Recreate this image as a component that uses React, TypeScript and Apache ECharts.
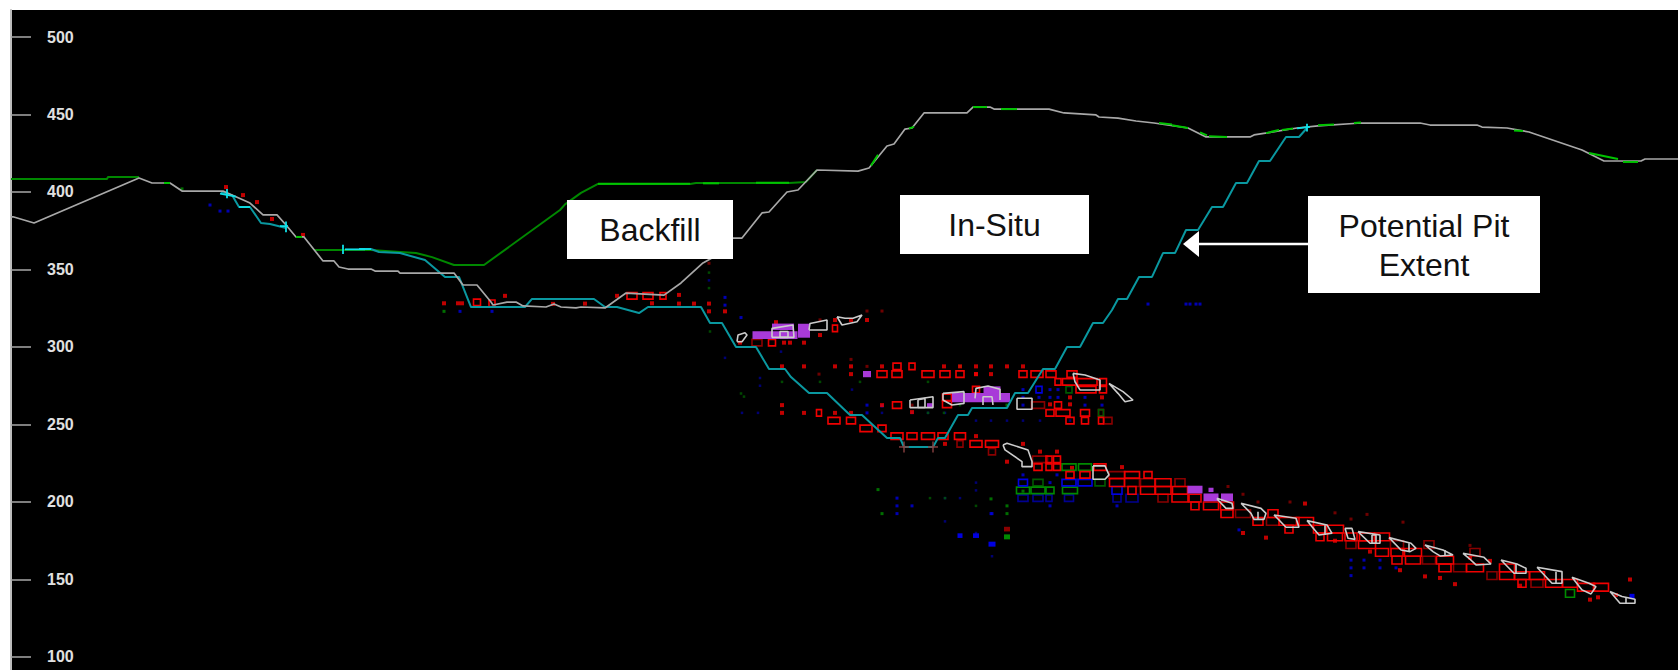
import React, { useEffect, useRef } from "react";
import * as echarts from "echarts";

type P = [number, number];
type B = [number, number, number];

const yTicks = [100, 150, 200, 250, 300, 350, 400, 450, 500];

const topography: P[] = [[11,384],[13,384],[34,380],[139,409],[152,405.8],[170,405.8],[182,400.6],[223,400.6],[250,392.9],[263,385.2],[277,385.2],[286,378.7],[296,371],[304,371],[323,355.5],[334,355.5],[339,351.6],[348,350.3],[371,350.3],[375,349],[398,349],[400,347.7],[454,347.7],[463,340],[477,340],[491,329],[493,327.1],[507,329],[516,329],[523,326.5],[546,325.8],[554,327.7],[561,325.8],[576,325.2],[581,325.8],[605,325.2],[626,334.8],[664,333.5],[681,341.3],[703,354.2],[712,357.4],[733,370.3],[742,370.3],[762,386.5],[769,387.1],[787,400],[798,401.3],[817,414.2],[858,413.5],[869,415.5],[887,429.7],[894,431],[905,440.6],[912,441.3],[924,451],[967,451],[973,454.8],[990,454.8],[994,453.5],[1049,453.5],[1064,451],[1096,449.7],[1099,448.4],[1118,447.7],[1136,445.8],[1154,444.5],[1188,441.3],[1206,435.5],[1250,435.5],[1254,436.8],[1297,441.3],[1318,442.6],[1361,444.5],[1420,444.5],[1430,443.2],[1477,443.2],[1482,441.9],[1507,441.3],[1529,438.7],[1582,427.1],[1604,420],[1622,420],[1641,420],[1645,421.3],[1678,421.3]];

const originalSurface: P[] = [[11,408.4],[107,408.4],[108,409.7],[139,409.7]];
const backfillSurface: P[] = [[314,362.6],[371,362.6],[400,361.3],[416,360.6],[432,358],[454,352.9],[484,352.9],[560,388.4],[565,392],[581,399.4],[598,405.2],[690,405.2],[696,405.8],[789,405.8],[806,406.5],[817,414.2]];
const greenHighlights: P[][] = [
  [[598,405.4],[690,405.4]],[[703,405.6],[719,405.6]],[[756,405.9],[789,405.9]],
  [[164,405.8],[170,405.8]],[[296,371],[302,371]],[[871,417],[878,424]],[[909,441],[914,442]],
  [[973,454.8],[987,454.8]],[[1001,453.5],[1017,453.5]],[[1159,444.5],[1172,443.5]],[[1172,443],[1188,441.3]],
  [[1200,438.5],[1207,436.5]],[[1209,436],[1227,435.5]],[[1266,438],[1279,440]],[[1282,440],[1293,441]],
  [[1318,443],[1334,443.5]],[[1354,444.5],[1361,444.8]],[[1514,439.6],[1523,439.4]],[[1589,425.2],[1618,421.3]],[[1623,419.4],[1638,419.4]],
];

const pitShellUpper: P[] = [[221,400],[232,398],[239,390.3],[250,390.3],[261,380],[270,379.4],[286,376.8]];
const pitShellMain: P[] = [[359,363.2],[371,363.2],[379,361.3],[400,360.6],[425,356.1],[445,345.2],[459,345.2],[471,325.8],[525,325.8],[532,331],[594,331],[605,325.8],[617,325.8],[639,321.9],[648,325.8],[701,325.8],[710,315.5],[722,315.5],[736,300],[756,300],[769,285.8],[785,285.8],[791,280.6],[809,270.3],[827,270.3],[850,256.1],[862,256.1],[887,241.3],[900,241.3],[904,235.5],[933,235.5],[938,241.3],[945,241.3],[958,256.1],[968,256.1],[972,260.6],[1007,260.6],[1015,270.3],[1028,270.3],[1043,285.8],[1055,285.8],[1067,300],[1080,300],[1093,315.5],[1103,315.5],[1112,323.9],[1118,331],[1127,331],[1139,345.2],[1152,345.2],[1163,360.6],[1175,360.6],[1186,375.5],[1198,375.5],[1212,390.3],[1223,390.3],[1236,405.8],[1247,405.8],[1259,420],[1270,420],[1286,435.5],[1299,435.5],[1307,441.3]];
const cyanBright: P[][] = [
  [[359,363.2],[371,363.2]],[[343,360],[343,366]],[[345,363],[365,363]],[[227,396],[227,402]],[[220,399],[236,397]],
  [[280,378],[288,378]],[[286,374],[286,381]],[[1297,441],[1310,442]],[[1307,439],[1307,444]],[[239,390.3],[250,390.3]],
];
const pinkCrosses: P[][] = [[[904,232],[904,239]],[[899,235.5],[909,235.5]],[[933,232],[933,239]],[[928,235.5],[938,235.5]]];

const oreOutlines: P[][] = [
  [[737,303.4],[738,307.7],[745,309.2],[747,307.7],[742,303.4]],
  [[772,306.2],[772,312],[793,314.2],[794,306.2]],
  [[780,306.2],[780,310],[788,310],[788,306.2]],
  [[809,311],[810,315.2],[827,317.4],[827,311]],
  [[837,319.5],[842,314.2],[857,316.3],[862,320.6],[853,318.5],[845,318.5]],
  [[910,265.8],[933,267.9],[933,260.9],[910,260.9]],
  [[918,266],[918,261],[925,261],[925,266.8]],
  [[943,270.1],[964,271.2],[964,263.6],[952,262.6],[943,265.8]],
  [[975,266.9],[976,273.3],[988,274.8],[1000,272.7],[1000,265.8],[1000,272.7],[988,274.8],[976,273.3]],
  [[983,262.6],[983,267.9],[992,267.9],[993,262.6],[992,267.9],[983,267.9]],
  [[1017,266.9],[1032,266.9],[1032,259.8],[1017,259.8]],
  [[1073,283],[1085,281.9],[1100,278.7],[1100,272.3],[1080,272.3],[1075,277.6]],
  [[1109,276.5],[1123,271.2],[1133,265.8],[1125,264.7],[1118,270.1]],
  [[1003,236.8],[1007,237.9],[1028,233.6],[1032,226.1],[1032,222.8],[1022,222.8],[1022,226.1],[1005,233.6]],
  [[1093,223.3],[1105,223.3],[1109,217.5],[1105,214.7],[1093,214.7]],
  [[1217,202.4],[1232,199.2],[1233,195.9],[1226,195.9],[1218,201.3]],
  [[1241,199.2],[1261,195.9],[1266,192.7],[1264,188.8],[1254,188.8],[1251,192.7]],
  [[1274,191.6],[1296,189.5],[1299,183.7],[1286,183.7],[1279,188.4]],
  [[1307,188],[1327,185.2],[1332,179.8],[1319,178.7],[1312,184.1]],
  [[1345,183],[1352,183],[1355,175.9],[1348,176.6]],
  [[1358,180.9],[1380,178.7],[1380,173.4],[1370,173.4]],
  [[1372,178.7],[1372,173.4],[1376,173.4],[1376,178.7]],
  [[1389,177],[1411,173.4],[1416,170.1],[1410,168],[1401,169]],
  [[1425,172.3],[1443,169],[1453,165.8],[1440,165.2],[1433,168]],
  [[1463,166.9],[1484,164.3],[1491,160],[1476,159.4],[1469,163.7]],
  [[1501,162.6],[1517,160],[1526,157.2],[1526,154],[1514,154]],
  [[1537,157.9],[1562,155.1],[1562,147.6],[1552,147.6]],
  [[1572,151.4],[1589,147.6],[1596,145.4],[1591,140.7],[1582,143.3]],
  [[1610,142.2],[1622,139],[1635,137.2],[1635,134.7],[1620,134.7]],
  [[1258,193.7],[1258,188.8]],[[1325,185],[1325,178.7]],[[1409,173.4],[1409,168]],[[1445,169],[1445,165.2]],[[1516,160],[1516,154]],[[1556,155],[1556,147.6]],[[1626,138],[1626,134.7]],
];

const purpleFills: [number, number, number, number][] = [
  [775,307.7,45,5],[804,310.5,12,9],[783,313,22,4.2],[867,282.5,8,4],
  [981,267.4,58,6],[992,272.2,17,4.8],[930,262.5,6,2.5],
  [1195,208,15,5],[1211,203,15,5],[1227,203,12,5],[1211,207.8,5,2.8],
];

const redBlocks: B[] = [
  [897,287.5,8],[912,287.5,6],[882,282.5,10],[897,282.5,10],[928,282.5,12],[945,282.5,10],[960,282.5,8],[1023,282.5,8],[1037,282.5,12],[1051,282.5,10],[1072,282.5,10],
  [1058,277.5,6],[1070,277.5,15],[1087,277.5,20],[1103,277.5,7],[976,272.5,7],[1086,272.5,20],[1103,272.5,7],
  [897,262.5,9],[947,267.5,9],[947,263,9],[1058,262.5,7],[1050,257.5,8],[1063,257.5,14],[1085,257.5,9],[1085,252.5,7],[1101,252.5,5],[1070,252.5,8],
  [819,257.5,5],[834,252.5,12],[851,252.5,9],[866,247.5,12],[882,247.5,8],
  [897,242.5,12],[912,242.5,10],[928,242.5,13],[943,242.5,10],[960,242.5,11],[976,237.5,12],[992,237.5,13],
  [1049,227.5,6],[1057,227.5,7],[1038,222.5,8],[1049,222.5,6],[1057,222.5,7],[1070,217.5,8],[1085,217.5,10],[1100,222.5,12],
  [1117,212.5,15],[1132,217.5,15],[1148,217.5,8],[1132,207.5,8],[1148,207.5,15],[1163,212.5,16],[1163,207.5,16],[1180,207.5,15],[1180,202.5,16],[1195,202.5,12],[1211,197.5,15],[1227,197.5,13],[1195,197.5,8],[1227,192.5,12],
  [1258,187.5,10],[1273,192.5,10],[1289,187.5,20],[1289,182.5,8],[1305,187.5,17],[1320,182.5,13],[1320,177.5,8],[1335,182.5,17],[1335,177.5,15],[1351,177.5,12],[1367,177.5,15],[1367,172.5,17],[1382,177.5,15],[1382,167.5,13],[1397,167.5,12],[1397,162.5,10],[1413,167.5,17],[1413,162.5,15],[1445,162.5,17],[1445,157.5,12],[1475,157.5,17],[1507,157.5,15],[1507,152.5,15],[1522,152.5,15],[1522,147.5,8],[1537,152.5,15],[1554,147.5,17],[1570,147.5,15],[1586,145,17],[1601,145,15],
  [477,328.8,7],[492,328.2,6],[632,333,10],[648,333,10],[663,333,6],[772,302.8,7],[835,312,5],
];
const dimRedBlocks: B[] = [
  [1038,262.5,13],[1101,257.5,5],[1108,252.5,8],[960,237.5,6],
  [992,232.5,7],[1040,227.5,15],[1117,217.5,16],[1132,212.5,15],[1148,212.5,15],[1180,212.5,10],[1163,202.5,10],
  [757,302.8,10],[1243,192.5,15],[1273,187.5,13],[1351,172.5,10],[1397,172.5,13],[1429,172.5,10],[1429,162.5,13],[1460,157.5,13],[1475,167.5,10],[1492,152.5,10],[1537,147.5,12],
];
const greenBlocks: B[] = [[1069,222.5,14],[1085,222.5,13],[1023,207.5,13],[1038,207.5,14],[1050,207.5,8],[1070,207.5,15],[1570,141,9]];
const dimGreenBlocks: B[] = [[1038,212.5,10],[1100,212.5,10],[1069,272.5,6],[1101,257.5,5]];
const blueBlocks: B[] = [[1023,212.5,9],[1069,212.5,14],[1085,212.5,14],[1117,207.5,10],[1039,272.5,6]];
const dimBlueBlocks: B[] = [[1023,202.5,10],[1038,202.5,10],[1049,202.5,6],[1069,202.5,9],[1117,202.5,8],[1132,202.5,12]];

const redDots: P[] = [
  [226,403.2],[243,398],[257,393.5],[272,382.6],[303,372.3],[444,328.2],[458,328.2],[462,328.2],[505,333],[553,327.8],[585,328],[617,333],[652,328.2],[679,328],[694,328],[709,328],[709,323],[725,323],[679,333.6],
  [740,302.8],[804,302.8],[820,307.7],[851,317.4],[867,317.4],[835,317.4],[784,302.8],[790,302.8],[776,316],
  [782,287.5],[804,287.5],[835,287.5],[851,287.5],[882,287.5],[944,287.5],[960,287.5],[976,287.5],[991,287.5],[1007,287.5],[1023,287.5],[851,282.5],[976,282.5],[991,282.5],[976,282.5],
  [782,262.5],[882,262.5],[1050,263],[1070,263],[1070,267.5],[1102,267.5],[782,257.5],[804,257.5],[851,257.5],[835,257.5],[912,258],
  [976,242.5],[945,237.5],[1023,237.5],[1040,232.5],[1057,232.5],[1007,226],[1072,222],[1122,222.5],
  [1598,138.5],[1616,140],[1630,150],[1590,137],[1470,164],[1490,162],[1305,199],[1243,180],[1266,177],[1335,175],[1370,168],[1425,152],[1440,151],[1455,147],[1400,156],[1520,146],
];
const dimRedDots: P[] = [[882,323.2],[867,323.2],[820,317.5],[804,312],[851,292],[867,287.5],[819,282.5],[912,262.5],[709,354],[1228,210],[1243,205],[1258,200],[1290,200],[1335,193],[1351,189],[1367,192],[1403,187],[1470,172]];
const blueDots: P[] = [
  [210,391.6],[220,387.7],[228,387.7],[460,323],[492,323],[725,332],[725,327],[741,319],
  [882,262],[867,262.5],[1023,272.5],[1050,272.5],[1058,272.5],[1023,267.5],[1039,267.5],[1050,267.5],[1058,267.5],[1085,267.5],[1085,262.5],[1102,262.5],[1023,262.5],[867,257.5],
  [1023,217.5],[1057,217.5],[1050,212.5],[1050,197.5],[1117,197.5],[991,192.5],
  [897,202.5],[897,197.5],[912,197.5],[897,192.5],[992,192.5],[1364,162.5],[1380,162.5],[1364,157.5],[1380,157.5],[1396,157.5],[1351,162.5],[1351,157.5],[1351,152.5],[1239,182],
  [1148,327.7],[1186,327.7],[1190,327.7],[1196,327.7],[1200,327.7],
];
const dimBlueDots: P[] = [[709,343],[725,293],[781,297],[760,280],[760,275],[742,257.5],[758,257.5],[852,272.5],[882,257.5],[912,257.5],[928,257.5],[945,257.5],[976,252.5],[991,252.5],[1007,252.5],[1023,252.5],[1040,252.5],[1070,252.5],[945,202.5],[976,212.5],[976,207.5],[960,202.5],[945,187.5],[992,165],[976,180]];
const greenDots: P[] = [[444,323],[1007,262.5],[960,287.5],[882,192.5],[1007,192.5],[1023,207],[991,202],[1007,197.5],[182,402],[878,208]];
const dimGreenDots: P[] = [[709,348],[709,338],[741,270],[782,277.5],[820,277.5],[860,277.5],[928,277.5],[744,268],[710,310],[960,262.5],[928,257.5],[944,257.5],[945,202.5],[930,202.5],[976,197.5]];
const darkRedFill: [number, number, number, number][] = [[1007,182.5,6,3]];
const blueFills: [number, number, number, number][] = [[960,178.3,5,3],[976,178.3,6,3],[992,172.8,7,3.2],[1632,139,5,3.5]];
const darkGreenFill: [number, number, number, number][] = [[1007,177.5,6,3.2]];

const COLORS = {
  red: "#f00000", dimRed: "#8a0000", green: "#008a00", dimGreen: "#005a00", blue: "#0000e0", dimBlue: "#000090",
  purple: "#a83ad8", teal: "#0a98a0", cyan: "#10e0e8", gray: "#a8a8a8", white: "#cccccc", surf: "#008800", bright: "#00c400", pink: "#8a4040",
};

function rectSeries(name: string, data: number[][], color: string, filled: boolean, z: number) {
  return {
    type: "custom", name, z, clip: true, silent: true,
    encode: { x: 0, y: 1 },
    data,
    renderItem: (_: any, api: any) => {
      const c = api.coord([api.value(0), api.value(1)]);
      const s = api.size([api.value(2), api.value(3)]);
      return {
        type: "rect",
        shape: { x: c[0] - s[0] / 2, y: c[1] - s[1] / 2, width: s[0], height: s[1] },
        style: filled ? { fill: color } : { fill: "none", stroke: color, lineWidth: 1.6 },
      };
    },
  };
}
const blockHeight = (x: number, e: number) => (x > 1100 && e < 215 ? 5 : 4.2);
const outlined = (name: string, d: B[], color: string, z: number) => rectSeries(name, d.map(([x, e, w]) => [x, e, w, blockHeight(x, e)]), color, false, z);
const dots = (name: string, d: P[], color: string, size: number, z: number) => ({ type: "scatter", name, data: d, symbol: "rect", symbolSize: size, itemStyle: { color }, z, silent: true });
const line = (name: string, d: P[], color: string, width: number, z: number) => ({ type: "line", name, data: d, showSymbol: false, symbol: "none", lineStyle: { color, width }, z, silent: true, clip: true });

const labelFont = '32px "Liberation Sans", Arial, sans-serif';
const annotation = (x: number, y: number, w: number, h: number, lines: [string, number][]) => [
  { type: "rect", z: 100, silent: true, shape: { x, y, width: w, height: h }, style: { fill: "#ffffff" } },
  ...lines.map(([text, ty]) => ({
    type: "text", z: 101, silent: true,
    style: { text, x: x + w / 2, y: ty, fill: "#111111", font: labelFont, textAlign: "center", textVerticalAlign: "middle" },
  })),
];

export default function App() {
  const ref = useRef<HTMLDivElement>(null);
  useEffect(() => {
    const chart = echarts.init(ref.current!, null, { renderer: "svg" });
    chart.setOption({
      animation: false,
      backgroundColor: "#ffffff",
      grid: { left: 11, right: 0, top: 10, bottom: 0, show: true, backgroundColor: "#000000", borderWidth: 0 },
      xAxis: { type: "value", min: 11, max: 1678, show: false },
      yAxis: {
        type: "value", min: 91.61, max: 517.42,
        splitLine: { show: false },
        axisLine: { show: true, lineStyle: { color: "#bdbdbd", width: 2 } },
        axisTick: { show: true, inside: true, length: 20, customValues: yTicks, lineStyle: { color: "#a8a8a8", width: 1.5 } },
        axisLabel: {
          show: true, inside: true, margin: 36, customValues: yTicks, color: "#e0e0e0",
          fontFamily: '"Liberation Sans", Arial, sans-serif', fontSize: 16, fontWeight: "bold",
          align: "left",
        },
      },
      series: [
        dots("red dots", redDots, COLORS.red, 4, 3),
        dots("dim red dots", dimRedDots, COLORS.dimRed, 3, 2),
        dots("blue dots", blueDots, COLORS.blue, 3, 2),
        dots("dim blue dots", dimBlueDots, COLORS.dimBlue, 2.5, 2),
        dots("green dots", greenDots, COLORS.green, 3, 2),
        dots("dim green dots", dimGreenDots, COLORS.dimGreen, 2.5, 2),
        outlined("dim red blocks", dimRedBlocks, COLORS.dimRed, 3),
        outlined("dim green blocks", dimGreenBlocks, COLORS.dimGreen, 3),
        outlined("dim blue blocks", dimBlueBlocks, COLORS.dimBlue, 3),
        outlined("green blocks", greenBlocks, COLORS.green, 4),
        outlined("blue blocks", blueBlocks, COLORS.blue, 4),
        outlined("red blocks", redBlocks, COLORS.red, 5),
        rectSeries("purple", purpleFills, COLORS.purple, true, 6),
        rectSeries("blue fill", blueFills, COLORS.blue, true, 6),
        rectSeries("dark red fill", darkRedFill, COLORS.dimRed, true, 6),
        rectSeries("dark green fill", darkGreenFill, COLORS.green, true, 6),
        line("original surface", originalSurface, COLORS.surf, 2, 7),
        line("backfill surface", backfillSurface, COLORS.surf, 2, 7),
        line("pit shell upper", pitShellUpper, COLORS.teal, 2, 8),
        line("pit shell", pitShellMain, COLORS.teal, 2, 8),
        line("topography", topography, COLORS.gray, 1.7, 9),
        ...greenHighlights.map((d, i) => line(`green ${i}`, d, COLORS.bright, 2, 10)),
        ...cyanBright.map((d, i) => line(`cyan ${i}`, d, COLORS.cyan, 1.8, 10)),
        ...pinkCrosses.map((d, i) => line(`cross ${i}`, d, COLORS.pink, 1.4, 10)),
        ...oreOutlines.map((d, i) => line(`ore ${i}`, [...d, d[0]], COLORS.white, 1.6, 11)),
      ],
      graphic: [
        ...annotation(567, 200, 166, 59, [["Backfill", 230]]),
        ...annotation(900, 195, 189, 59, [["In-Situ", 225]]),
        ...annotation(1308, 196, 232, 97, [["Potential Pit", 226], ["Extent", 265]]),
        { type: "line", z: 100, silent: true, shape: { x1: 1198, y1: 244, x2: 1308, y2: 244 }, style: { stroke: "#ffffff", lineWidth: 2.5 } },
        { type: "polygon", z: 100, silent: true, shape: { points: [[1183, 244], [1199, 231], [1199, 257]] }, style: { fill: "#ffffff" } },
      ],
    });
    return () => chart.dispose();
  }, []);
  return <div ref={ref} style={{ position: "absolute", left: 0, top: 0, width: 1678, height: 670 }} />;
}
